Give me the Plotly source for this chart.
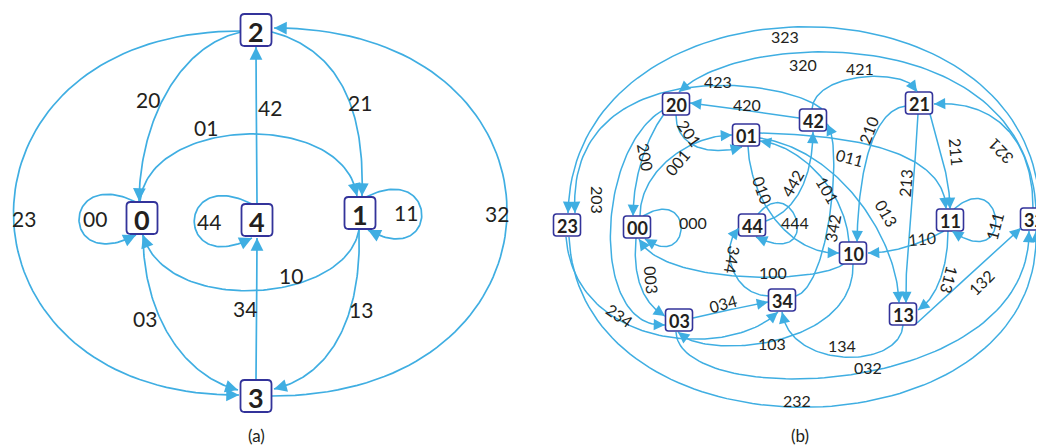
import numpy as np
import plotly.graph_objects as go

# ---------------- data ----------------
# panel (a): nodes and edge labels (edge "ab" goes from node a to node b)
a_names = ["0", "1", "2", "3", "4"]
a_x = [142, 360, 256, 256, 257]
a_y = [218, 213, 30, 396, 220]
a_edges = ["23", "32", "20", "21", "42", "34", "01", "10", "03", "13", "00", "44", "11"]

# panel (b): nodes and edge labels (edge "abc" goes from node ab to node bc)
b_names = ["20", "42", "01", "21", "23", "00", "44", "10", "11", "32", "34", "03", "13"]
b_x = [676, 813, 746, 919, 567, 637, 752, 853, 950, 1034, 782, 679, 903]
b_y = [104, 120, 135, 103, 225, 227, 225, 253, 220, 219, 300, 320, 314]
b_edges = ["323", "320", "421", "423", "420", "201", "001", "000", "200", "203",
           "003", "100", "010", "442", "444", "101", "342", "011", "013", "210",
           "213", "211", "321", "111", "110", "113", "132", "134", "103", "034",
           "344", "234", "032", "232"]

captions = ["(a)", "(b)"]

# ---------------- edge routing (layout, not data) ----------------
# label: (start offset from source centre, end offset from target centre,
#         handle1 relative to start, handle2 relative to end, label position, label angle)
GEO_A = {
    "23": ((-15, 1), (-17, -1), (-305, 0), (-299, 2), (24, 218), 0),
    "32": ((16, 0), (18, -2), (312, 0), (312, 0), (497, 213), 0),
    "20": ((-15, 2), (-3, -17), (-61, 13), (1, -81), (148, 99), 0),
    "21": ((16, 2), (2, -17), (68, 18), (3, -86), (360, 102), 0),
    "42": ((0, -17), (0, 17), (0, -50), (0, 50), (270, 107), 0),
    "34": ((0, -17), (0, 18), (0, -50), (0, 50), (245, 308), 0),
    "01": ((-2, -17), (-3, -17), (10, -86), (-12, -86), (206, 127), 0),
    "10": ((-1, 17), (1, 17), (-14, 75), (22, 80), (291, 275), 0),
    "03": ((1, 17), (-18, -6), (0, 75), (-58, -15), (145, 318), 0),
    "13": ((-1, 17), (18, -7), (3, 80), (61, -14), (361, 309), 0),
    "00": ((-6, -16), (-6, 17), (-76, -37), (-76, 40), (95, 218), 0),
    "44": ((-5, -16), (-5, 18), (-77, -39), (-77, 40), (209, 221), 0),
    "11": ((6, -16), (8, 17), (74, -37), (72, 40), (406, 212), 0),
}
GEO_B = {
    "323": ((6, -11), (1, -12), (-10, -245), (5, -245), (785, 36), 0),
    "320": ((2, -11), (3, -12), (-11, -188), (61, -62), (803, 64), 0),
    "421": ((-1, -11), (-2, -11), (3, -39), (-5, -24), (860, 68), 0),
    "423": ((9, -11), (8, -12), (-42, -34), (-10, -158), (718, 81), 0),
    "420": ((-14, -2), (14, -1), (-30, -4), (30, 3), (747, 104), 0),
    "201": ((0, 11), (-4, 12), (0, 34), (-30, 9), (690, 133), 55),
    "001": ((3, -11), (-14, 0), (0, -46), (-42, 0), (677, 162), -50),
    "000": ((6, -11), (8, 12), (52, -31), (47, 33), (693, 222), 0),
    "200": ((-12, 10), (-4, -11), (-19, 26), (0, -36), (646, 157), 80),
    "203": ((-13, 6), (-14, 5), (-68, 40), (-75, 5), (598, 200), 90),
    "003": ((-1, 11), (-14, -4), (-4, 42), (-20, -11), (652, 280), 85),
    "100": ((-8, 10), (2, 12), (-25, 22), (21, 46), (773, 272), 0),
    "010": ((2, 11), (-14, 0), (2, 54), (-49, 2), (763, 190), 70),
    "442": ((14, -4), (0, 12), (34, -11), (0, 38), (792, 183), -60),
    "444": ((6, -11), (4, 12), (37, -44), (69, 33), (795, 222), 0),
    "101": ((-4, -11), (14, 6), (-4, -52), (40, 4), (828, 190), 60),
    "342": ((14, -4), (14, 4), (34, -11), (16, 16), (832, 228), -80),
    "011": ((14, -2), (-4, -11), (90, 2), (-1, -59), (850, 157), 15),
    "013": ((14, 3), (-4, -11), (80, 12), (-1, -63), (887, 213), 60),
    "210": ((-13, 3), (4, -11), (-36, 4), (1, -62), (868, 130), -70),
    "213": ((-1, 11), (3, -11), (-3, 66), (-1, -53), (905, 183), -85),
    "211": ((11, 11), (0, -11), (10, 36), (0, -29), (957, 152), 85),
    "321": ((-1, -11), (15, 1), (0, -78), (52, -4), (1000, 152), -135),
    "111": ((4, -11), (2, 11), (51, -44), (63, 44), (994, 226), -75),
    "110": ((-6, 11), (15, 0), (-24, 14), (22, 0), (922, 238), -5),
    "113": ((-2, 11), (15, -4), (0, 39), (17, -10), (950, 280), 105),
    "132": ((14, 9), (-13, 9), (34, -32), (-34, 32), (981, 282), -45),
    "134": ((0, 11), (0, 12), (-3, 45), (8, 58), (842, 345), 0),
    "103": ((0, 11), (-1, 12), (2, 86), (22, 28), (772, 343), 0),
    "034": ((14, -2), (-14, 2), (25, -6), (-25, 5), (723, 303), -15),
    "344": ((-13, -4), (-13, 3), (-39, -1), (-19, 17), (733, 260), 100),
    "234": ((-1, 12), (-4, 12), (9, 113), (-48, 48), (620, 315), 35),
    "032": ((-3, 12), (-5, 12), (3, 78), (2, 169), (868, 367), 0),
    "232": ((2, 12), (2, 12), (11, 233), (8, 229), (797, 400), 0),
}

EDGE = "#3FAEE2"
BORDER = "#33339A"
TXT = "#231F20"
FONT = "Lato"
PAGE_OFFSET = 8  # default body margin of the html page

fig = go.Figure()
annotations = []
shapes = []


def bezier(p0, p1, p2, p3, n=80):
    t = np.linspace(0, 1, n)[:, None]
    return ((1 - t) ** 3) * p0 + 3 * ((1 - t) ** 2) * t * p1 + 3 * (1 - t) * t ** 2 * p2 + t ** 3 * p3


def draw_panel(names, xs, ys, edges, geo, src_of, tgt_of, box_w, box_h, rad,
               node_fs, edge_fs, lw, bw, asz):
    pos = {n: np.array([x, y], float) for n, x, y in zip(names, xs, ys)}
    lx, ly = [], []
    for lab in edges:
        s_off, e_off, h1, h2, lpos, ang = geo[lab]
        p0 = pos[src_of(lab)] + np.array(s_off, float)
        p3 = pos[tgt_of(lab)] + np.array(e_off, float)
        p1 = p0 + np.array(h1, float)
        p2 = p3 + np.array(h2, float)
        pts = bezier(p0, p1, p2, p3)
        lx += list(pts[:, 0]) + [None]
        ly += list(pts[:, 1]) + [None]
        d = np.hypot(pts[:, 0] - p3[0], pts[:, 1] - p3[1])
        idx = np.where(d >= 8)[0]
        tail = pts[idx[-1]] if len(idx) else p2
        annotations.append(dict(x=p3[0], y=p3[1], ax=tail[0], ay=tail[1],
                                xref="x", yref="y", axref="x", ayref="y",
                                showarrow=True, arrowhead=2, arrowsize=asz,
                                arrowwidth=lw, arrowcolor=EDGE, text="", standoff=0))
        annotations.append(dict(x=lpos[0], y=lpos[1], text=lab, showarrow=False,
                                textangle=ang, xref="x", yref="y",
                                font=dict(family=FONT, size=edge_fs, color=TXT)))
    fig.add_trace(go.Scatter(x=lx, y=ly, mode="lines", hoverinfo="skip",
                             line=dict(color=EDGE, width=lw), showlegend=False))
    for n in names:
        cx, cy = pos[n]
        x0, x1 = cx - box_w / 2, cx + box_w / 2
        y0, y1 = cy - box_h / 2, cy + box_h / 2
        r = rad
        path = (f"M {x0 + r},{y0} L {x1 - r},{y0} Q {x1},{y0} {x1},{y0 + r} "
                f"L {x1},{y1 - r} Q {x1},{y1} {x1 - r},{y1} L {x0 + r},{y1} "
                f"Q {x0},{y1} {x0},{y1 - r} L {x0},{y0 + r} Q {x0},{y0} {x0 + r},{y0} Z")
        shapes.append(dict(type="path", path=path, xref="x", yref="y",
                           fillcolor="white", line=dict(color=BORDER, width=bw),
                           layer="above"))
        annotations.append(dict(x=cx, y=cy + 1, text=f"<b>{n}</b>", showarrow=False,
                                xref="x", yref="y",
                                font=dict(family=FONT, size=node_fs, color=TXT)))


draw_panel(a_names, a_x, a_y, a_edges, GEO_A, lambda s: s[0], lambda s: s[1],
           31, 32, 4, 27, 21, 1.7, 1.8, 1.5)
draw_panel(b_names, b_x, b_y, b_edges, GEO_B, lambda s: s[:2], lambda s: s[1:],
           27, 22, 3, 18, 16, 1.5, 1.6, 1.5)

for cap, cx in zip(captions, [256, 800]):
    annotations.append(dict(x=cx, y=435, text=cap, showarrow=False, xref="x", yref="y",
                            font=dict(family=FONT, size=17, color=TXT)))

fig.update_layout(
    width=1044, height=445,
    margin=dict(l=0, r=0, t=0, b=0),
    paper_bgcolor="white", plot_bgcolor="white",
    xaxis=dict(range=[PAGE_OFFSET, 1044 + PAGE_OFFSET], visible=False, fixedrange=True),
    yaxis=dict(range=[445 + PAGE_OFFSET, PAGE_OFFSET], visible=False, fixedrange=True),
    annotations=annotations, shapes=shapes, showlegend=False,
)
fig.write_html("out.html")
